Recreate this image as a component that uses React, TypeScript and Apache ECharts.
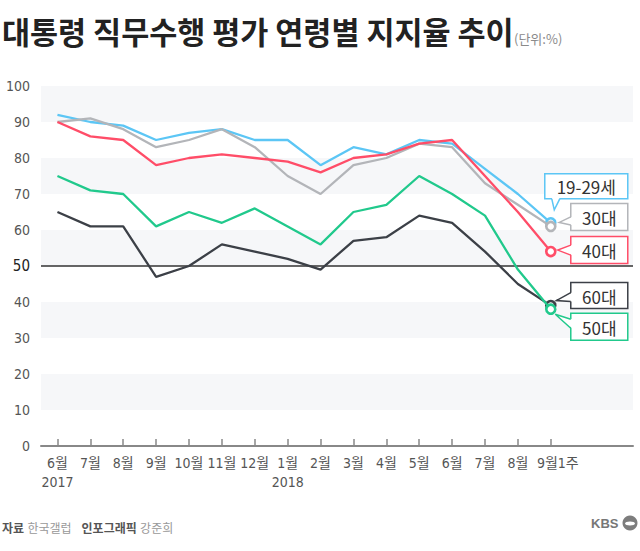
import React, { useEffect, useRef } from 'react';
import * as echarts from 'echarts';

// ---- data ----
const categories = ['6월\n2017', '7월', '8월', '9월', '10월', '11월', '12월', '1월\n2018', '2월', '3월', '4월', '5월', '6월', '7월', '8월', '9월1주', ' ', '  '];
const seriesNames = ['19-29세', '30대', '40대', '60대', '50대'];
const age1929 = [92, 90, 89, 85, 87, 88, 85, 85, 78, 83, 81, 85, 84, 77, 70, 62];
const age30 = [90, 91, 88, 83, 85, 88, 83, 75, 70, 78, 80, 84, 83, 73, 67, 61];
const age40 = [90, 86, 85, 78, 80, 81, 80, 79, 76, 80, 81, 84, 85, 75, 65, 54];
const age60 = [65, 61, 61, 47, 50, 56, 54, 52, 49, 57, 58, 64, 62, 54, 45, 39];
const age50 = [75, 71, 70, 61, 65, 62, 66, 61, 56, 65, 67, 75, 70, 64, 49, 38];
const yMin = 0;
const yMax = 100;
const yInterval = 10;
const referenceLine = 50;

const seriesData = [age1929, age30, age40, age60, age50];
const colors = ['#5cc6f5', '#b3b5b9', '#ff4d68', '#3c4047', '#21c98c'];

const FONT = "'Noto Sans CJK KR', 'Noto Sans', sans-serif";
const AXIS_FONT = "'Liberation Sans Narrow', 'DejaVu Sans Condensed', 'Noto Sans CJK KR', sans-serif";

// callout geometry relative to the last point (styling only)
type Callout = {
  box: [number, number, number, number];
  tail: [number, number][];
  inward: [number, number];
};
const callouts: Callout[] = [
  { box: [-6, -49, 83, 25], tail: [[1, -24], [3.5, -13], [9, -24]], inward: [0, -1.2] },
  { box: [20, -23, 57, 27], tail: [[20, -9.5], [8.5, -4], [20, -1.5]], inward: [1.2, 0] },
  { box: [20, -15, 57, 27], tail: [[20, -6.5], [7, -1.5], [20, 3.5]], inward: [1.2, 0] },
  { box: [20, -23, 57, 26], tail: [[20, -13], [5.5, -5], [20, -4]], inward: [1.2, 0] },
  { box: [20, 4, 57, 27], tail: [[20, 10], [4.5, 5], [20, 19]], inward: [1.2, 0] },
];

export default function App() {
  const ref = useRef<HTMLDivElement>(null);

  useEffect(() => {
    if (!ref.current) return;
    const chart = echarts.init(ref.current, undefined, { renderer: 'svg' });
    const lastIdx = age1929.length - 1;

    const series: any[] = seriesData.map((d, i) => ({
      name: seriesNames[i],
      type: 'line',
      data: d,
      z: 2 + i,
      showSymbol: true,
      showAllSymbol: true,
      symbol: (_v: any, p: any) => (p.dataIndex === lastIdx ? 'circle' : 'none'),
      symbolSize: 9,
      lineStyle: { color: colors[i], width: 2.3 },
      itemStyle: { color: '#fff', borderColor: colors[i], borderWidth: 2.6 },
      emphasis: { disabled: true },
      silent: true,
    }));
    series[0].markLine = {
      silent: true,
      symbol: ['none', 'none'],
      label: { show: false },
      lineStyle: { color: '#333', width: 1.5, type: 'solid' },
      data: [{ yAxis: referenceLine }],
    };

    chart.setOption({
      animation: false,
      backgroundColor: '#ffffff',
      grid: { left: 41, right: 7, top: 86, bottom: 105, containLabel: false },
      xAxis: {
        type: 'category',
        boundaryGap: true,
        data: categories.map((c, i) =>
          i === 15 ? { value: c, textStyle: { padding: [0, 0, 0, 14] } } : c
        ),
        axisLine: { lineStyle: { color: '#888', width: 2 } },
        axisTick: {
          show: true,
          inside: true,
          length: 7,
          alignWithLabel: true,
          interval: (idx: number) => idx < 16,
          lineStyle: { color: '#888', width: 1.5 },
        },
        axisLabel: {
          interval: 0,
          color: '#555',
          fontSize: 14,
          lineHeight: 19,
          margin: 7,
          fontFamily: AXIS_FONT,
        },
        splitLine: { show: false },
      },
      yAxis: {
        type: 'value',
        min: yMin,
        max: yMax,
        interval: yInterval,
        axisLine: { show: false },
        axisTick: { show: false },
        splitLine: { show: false },
        splitArea: { show: true, areaStyle: { color: ['#ffffff', '#f6f7f9'] } },
        axisLabel: {
          color: '#555',
          fontSize: 14,
          margin: 11,
          fontFamily: AXIS_FONT,
          formatter: (v: number) => (v === referenceLine ? `{d|${v}}` : `${v}`),
          rich: { d: { color: '#222', fontSize: 15, fontFamily: AXIS_FONT } },
        },
      },
      series,
    });

    const graphics: any[] = [
      {
        type: 'text',
        x: 2,
        y: 31,
        style: {
          text: '대통령 직무수행 평가 연령별 지지율 추이',
          font: `bold 30.5px ${FONT}`,
          fill: '#222',
          verticalAlign: 'middle',
        },
      },
      {
        type: 'text',
        x: 514,
        y: 38,
        style: { text: '(단위:%)', font: `13px ${FONT}`, fill: '#8a8a8a', verticalAlign: 'middle' },
      },
      {
        type: 'text',
        x: 2,
        y: 527,
        style: {
          text: '{b|자료} {n|한국갤럽}   {b|인포그래픽} {n|강준희}',
          verticalAlign: 'middle',
          rich: {
            b: { fontFamily: FONT, fontSize: 12, fontWeight: 'bold', fill: '#555' },
            n: { fontFamily: FONT, fontSize: 12, fill: '#999' },
          },
        },
      },
      {
        type: 'text',
        x: 591,
        y: 523,
        style: {
          text: 'KBS',
          font: "bold 13px 'Liberation Sans', sans-serif",
          fill: '#777',
          verticalAlign: 'middle',
        },
      },
      { type: 'circle', shape: { cx: 630, cy: 523, r: 7.5 }, style: { fill: '#7d7d7d' } },
      { type: 'ellipse', shape: { cx: 630, cy: 523.5, rx: 5, ry: 2 }, style: { fill: '#fff' } },
    ];

    seriesData.forEach((d, i) => {
      const [px, py] = chart.convertToPixel({ xAxisIndex: 0, yAxisIndex: 0 }, [lastIdx, d[lastIdx]]) as number[];
      const c = callouts[i];
      const [bx, by, bw, bh] = c.box;
      const tailPts = c.tail.map(([tx, ty]) => [px + tx, py + ty]);
      const cover = [
        [tailPts[0][0] + c.inward[0], tailPts[0][1] + c.inward[1]],
        tailPts[1],
        [tailPts[2][0] + c.inward[0], tailPts[2][1] + c.inward[1]],
      ];
      graphics.push(
        {
          type: 'rect',
          z: 100,
          shape: { x: px + bx, y: py + by, width: bw, height: bh },
          style: { fill: '#fff', stroke: colors[i], lineWidth: 1.5 },
        },
        { type: 'polygon', z: 101, shape: { points: cover }, style: { fill: '#fff', stroke: 'none' } },
        {
          type: 'polyline',
          z: 102,
          shape: { points: tailPts },
          style: { fill: 'none', stroke: colors[i], lineWidth: 1.5 },
        },
        {
          type: 'text',
          z: 103,
          x: px + bx + bw / 2,
          y: py + by + bh / 2 + 0.5,
          style: {
            text: seriesNames[i],
            font: `17px ${FONT}`,
            fill: '#333',
            align: 'center',
            verticalAlign: 'middle',
          },
        }
      );
    });

    chart.setOption({ graphic: graphics });

    return () => chart.dispose();
  }, []);

  return (
    <div
      ref={ref}
      style={{ position: 'fixed', left: 0, top: 0, width: 640, height: 551, background: '#fff' }}
    />
  );
}
